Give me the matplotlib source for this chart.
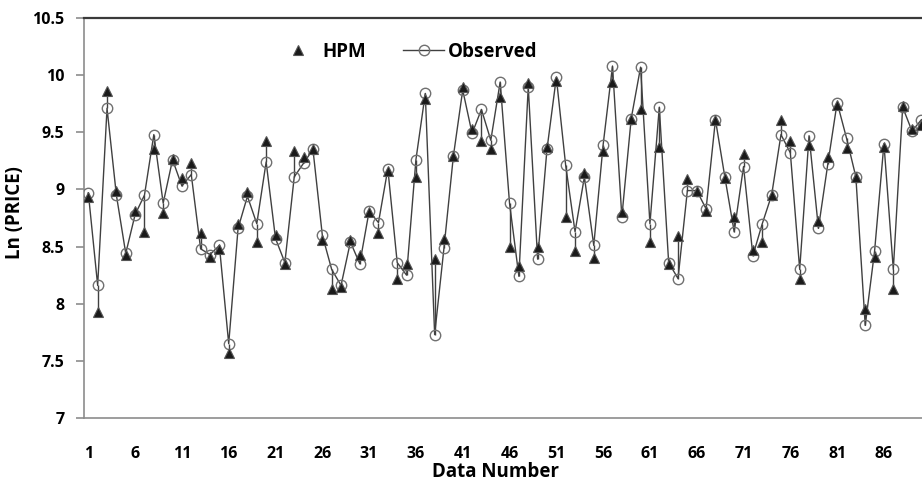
import numpy as np
import matplotlib
matplotlib.use("Agg")
import matplotlib.pyplot as plt

plt.rcParams['font.family'] = ['Open Sans', 'DejaVu Sans']
plt.rcParams['font.weight'] = 'bold'

# Ln(PRICE) per data number
hpm = [8.93, 7.93, 9.86, 8.99, 8.43, 8.81, 8.63, 9.35, 8.79, 9.27,
       9.10, 9.23, 8.62, 8.41, 8.48, 7.57, 8.70, 8.98, 8.54, 9.42,
       8.60, 8.35, 9.34, 9.28, 9.35, 8.56, 8.13, 8.15, 8.56, 8.43,
       8.80, 8.62, 9.16, 8.22, 8.35, 9.11, 9.79, 8.39, 8.57, 9.29,
       9.90, 9.53, 9.42, 9.35, 9.81, 8.50, 8.33, 9.93, 8.50, 9.37,
       9.95, 8.76, 8.46, 9.14, 8.40, 9.34, 9.94, 8.80, 9.62, 9.70,
       8.54, 9.37, 8.35, 8.59, 9.09, 8.99, 8.81, 9.61, 9.10, 8.76,
       9.31, 8.47, 8.54, 8.95, 9.61, 9.42, 8.22, 9.39, 8.72, 9.28,
       9.74, 9.36, 9.11, 7.95, 8.41, 9.37, 8.13, 9.73, 9.53, 9.56]
observed = [8.97, 8.16, 9.71, 8.95, 8.44, 8.78, 8.95, 9.48, 8.88, 9.26,
            9.03, 9.13, 8.48, 8.43, 8.51, 7.65, 8.66, 8.94, 8.70, 9.24,
            8.57, 8.36, 9.11, 9.23, 9.35, 8.60, 8.30, 8.16, 8.54, 8.35,
            8.81, 8.71, 9.18, 8.36, 8.25, 9.26, 9.84, 7.73, 8.49, 9.29,
            9.87, 9.49, 9.70, 9.43, 9.94, 8.88, 8.24, 9.90, 8.39, 9.35,
            9.98, 9.21, 8.63, 9.11, 8.51, 9.39, 10.08, 8.76, 9.62, 10.07,
            8.70, 9.72, 8.36, 8.22, 8.99, 8.99, 8.83, 9.61, 9.11, 8.63,
            9.20, 8.42, 8.70, 8.95, 9.48, 9.32, 8.30, 9.47, 8.66, 9.22,
            9.76, 9.45, 9.11, 7.81, 8.46, 9.40, 8.30, 9.72, 9.51, 9.61]
data_number = np.arange(1, len(hpm) + 1)
x_ticks = list(range(1, 87, 5))
y_ticks = [7, 7.5, 8, 8.5, 9, 9.5, 10, 10.5]

fig = plt.figure(figsize=(9.22, 4.86), dpi=100)
ax = fig.add_axes([84 / 922, 68 / 486, 843 / 922, 400 / 486])

# high-low lines between the two series
ax.vlines(data_number, np.minimum(hpm, observed), np.maximum(hpm, observed),
          color='#404040', lw=1.0, zorder=2)
ax.plot(data_number, observed, color='#404040', lw=1.0, marker='o', ms=7.5,
        mfc='none', mec='#707070', mew=1.0, label='Observed', zorder=3)
ax.plot(data_number, hpm, ls='none', marker='^', ms=7, mfc='#1a1a1a',
        mec='#555555', mew=0.8, label='HPM', zorder=4)

ax.set_xlim(0.54, 90.6)
ax.set_ylim(7, 10.5)
ax.set_xticks(x_ticks)
ax.set_yticks(y_ticks)
ax.set_yticklabels(['7', '7.5', '8', '8.5', '9', '9.5', '10', '10.5'])

for s in ['left', 'bottom']:
    ax.spines[s].set_color('#8c8c8c')
    ax.spines[s].set_linewidth(1.2)
ax.spines['top'].set_color('#3a3a3a')
ax.spines['top'].set_linewidth(1.6)
ax.spines['right'].set_visible(False)

ax.tick_params(axis='y', direction='out', length=6, width=1.2, color='#8c8c8c',
               pad=8, labelsize=11.5)
ax.tick_params(axis='x', length=0, pad=20, labelsize=11.5)

ax.set_ylabel('Ln (PRICE)', fontsize=13.5, fontweight='bold')
ax.yaxis.set_label_coords(-(84 - 25) / 843, (418 - 213) / 400)
fig.text(495 / 922, 1 - 472 / 486, 'Data Number', fontsize=13.5,
         fontweight='bold', ha='center', va='center')

handles, labels = ax.get_legend_handles_labels()
leg = ax.legend(handles[::-1], labels[::-1], loc='center left', ncol=2,
                bbox_to_anchor=((277 - 84) / 843, (418 - 52) / 400),
                frameon=False, fontsize=13.5, handlelength=2.2,
                columnspacing=2.0, handletextpad=0.2, borderpad=0,
                borderaxespad=0)
for t in leg.get_texts():
    t.set_fontweight('bold')

fig.savefig('out.png', dpi=100)
